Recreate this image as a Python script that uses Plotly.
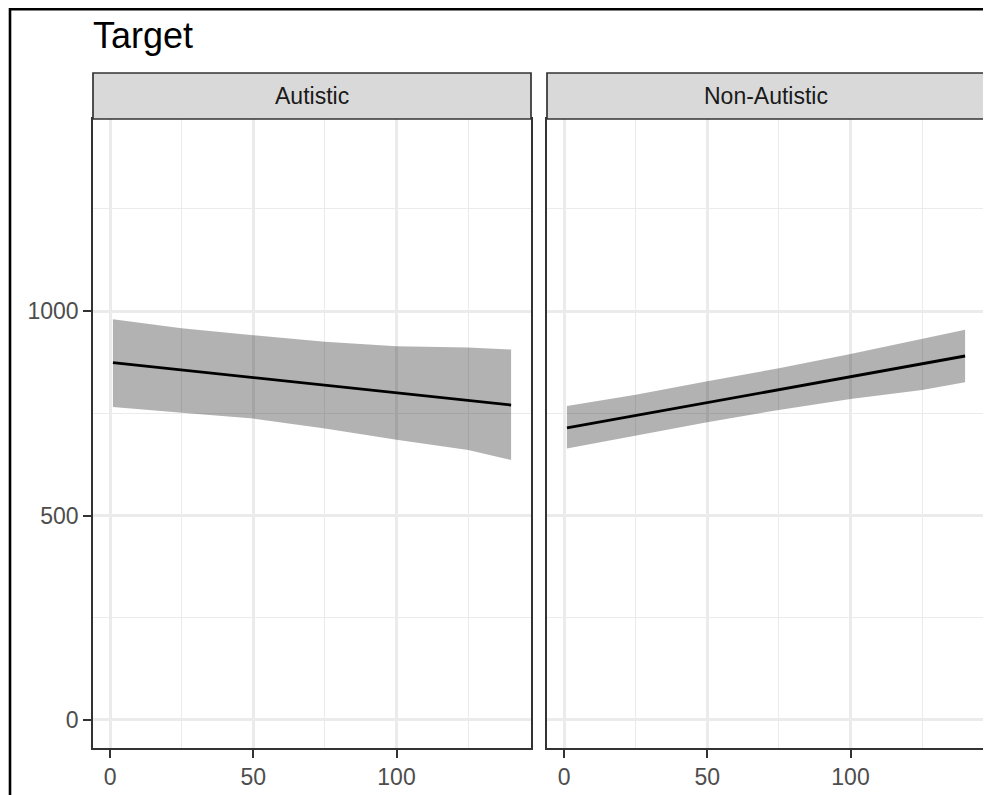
import plotly.graph_objects as go

# ---- data ----
panels = ["Autistic", "Non-Autistic"]
x_vals = [1, 25, 50, 75, 100, 125, 140]
fit_autistic = [874, 856, 837, 818, 800, 781, 770]
upper_autistic = [980, 958, 941, 925, 914, 911, 906]
lower_autistic = [765, 751, 737, 713, 685, 660, 636]
fit_nonautistic = [714, 745, 777, 809, 840, 872, 890]
upper_nonautistic = [768, 795, 828, 860, 895, 933, 954]
lower_nonautistic = [664, 695, 728, 758, 785, 807, 826]
x_ticks = [0, 50, 100]
y_ticks = [0, 500, 1000]
title_text = "Target"

# page body has an 8px margin; the figure is sized and positioned to compensate
OFF = 8
W, H = 991 - OFF, 795 - OFF
FONT = "Liberation Sans, Arial, sans-serif"

def px_x(p):
    return (p - OFF) / W

def px_y(p):
    return 1 - (p - OFF) / H

dom_x = [[px_x(93), px_x(531)], [px_x(547), px_x(985)]]
dom_y = [px_y(748), px_y(119)]

fig = go.Figure()

series = [
    (fit_autistic, upper_autistic, lower_autistic),
    (fit_nonautistic, upper_nonautistic, lower_nonautistic),
]

for i, (fit, up, lo) in enumerate(series):
    xa = "x" if i == 0 else "x2"
    ya = "y" if i == 0 else "y2"
    fig.add_trace(go.Scatter(
        x=x_vals + x_vals[::-1], y=up + lo[::-1],
        fill="toself", fillcolor="rgba(0,0,0,0.3)",
        line=dict(width=0), mode="lines", hoverinfo="skip",
        xaxis=xa, yaxis=ya, showlegend=False))
    fig.add_trace(go.Scatter(
        x=[x_vals[0], x_vals[-1]], y=[fit[0], fit[-1]],
        mode="lines", line=dict(color="black", width=2.8),
        xaxis=xa, yaxis=ya, showlegend=False))

grid_major = "#EBEBEB"
axis_common = dict(
    showline=True, mirror=True, linecolor="#333333", linewidth=1.7,
    showgrid=True, gridcolor=grid_major, gridwidth=2.6,
    zeroline=False,
    ticks="outside", ticklen=8, tickwidth=2.3, tickcolor="#333333",
    tickfont=dict(family=FONT, size=23, color="#4D4D4D"),
)

for i in range(2):
    xkey = "xaxis" if i == 0 else "xaxis2"
    ykey = "yaxis" if i == 0 else "yaxis2"
    fig.update_layout(**{
        xkey: dict(axis_common, domain=dom_x[i], range=[-5.95, 146.95],
                   tickvals=x_ticks, ticktext=[str(v) for v in x_ticks],
                   anchor="y" if i == 0 else "y2",
                   minor=dict(tickvals=[25, 75, 125], showgrid=True,
                              gridcolor=grid_major, gridwidth=1.3, ticks="")),
        ykey: dict(axis_common, domain=dom_y, range=[-68.5, 1469.5],
                   tickvals=y_ticks, ticktext=[str(v) for v in y_ticks],
                   anchor="x" if i == 0 else "x2",
                   showticklabels=(i == 0), ticks="outside" if i == 0 else "",
                   minor=dict(tickvals=[250, 750, 1250], showgrid=True,
                              gridcolor=grid_major, gridwidth=1.3, ticks="")),
    })

shapes = []
annotations = []
for i, name in enumerate(panels):
    shapes.append(dict(type="rect", xref="paper", yref="paper",
                       x0=dom_x[i][0], x1=dom_x[i][1],
                       y0=px_y(119), y1=px_y(73),
                       fillcolor="#D9D9D9", line=dict(color="#333333", width=1.7),
                       layer="above"))
    annotations.append(dict(text=name, xref="paper", yref="paper",
                            x=(dom_x[i][0] + dom_x[i][1]) / 2, y=px_y(96),
                            xanchor="center", yanchor="middle", showarrow=False,
                            font=dict(family=FONT, size=23, color="#1A1A1A")))

# outer frame (top and left edges visible)
shapes.append(dict(type="line", xref="paper", yref="paper",
                   x0=px_x(10), x1=1.05, y0=px_y(9.3), y1=px_y(9.3),
                   line=dict(color="black", width=2.6)))
shapes.append(dict(type="line", xref="paper", yref="paper",
                   x0=px_x(10), x1=px_x(10), y0=-0.05, y1=px_y(8),
                   line=dict(color="black", width=2.6)))

annotations.append(dict(text=title_text, xref="paper", yref="paper",
                        x=px_x(91), y=px_y(35), xanchor="left", yanchor="middle",
                        showarrow=False,
                        font=dict(family=FONT, size=36, color="black")))

fig.update_layout(
    width=W, height=H,
    margin=dict(l=0, r=0, t=0, b=0, pad=0),
    paper_bgcolor="white", plot_bgcolor="white",
    shapes=shapes, annotations=annotations,
    showlegend=False,
)

fig.write_html("out.html")
